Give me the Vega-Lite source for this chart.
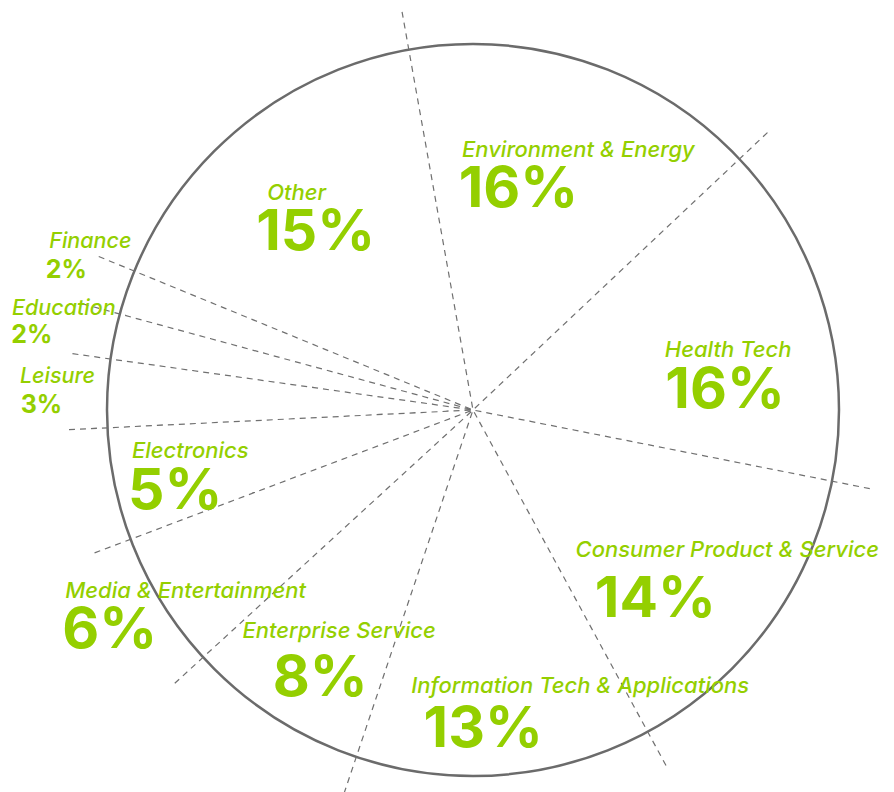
{
  "$schema": "https://vega.github.io/schema/vega-lite/v6.json",
  "width": 842,
  "height": 764,
  "autosize": "none",
  "padding": {"left": 52, "top": 28, "right": 0, "bottom": 0},
  "background": "white",
  "config": {
    "view": {"stroke": null},
    "text": {"font": "Inter", "color": "#94cf00", "align": "center", "baseline": "alphabetic"}
  },
  "datasets": {
    "shares": [
      {"idx": 1, "category": "Environment & Energy", "value": 15.78, "label": "16%"},
      {"idx": 2, "category": "Health Tech", "value": 15.14, "label": "16%"},
      {"idx": 3, "category": "Consumer Product & Service", "value": 13.97, "label": "14%"},
      {"idx": 4, "category": "Information Tech & Applications", "value": 13.08, "label": "13%"},
      {"idx": 5, "category": "Enterprise Service", "value": 8.03, "label": "8%"},
      {"idx": 6, "category": "Media & Entertainment", "value": 6.06, "label": "6%"},
      {"idx": 7, "category": "Electronics", "value": 4.97, "label": "5%"},
      {"idx": 8, "category": "Leisure", "value": 3.0, "label": "3%"},
      {"idx": 9, "category": "Education", "value": 2.0, "label": "2%"},
      {"idx": 10, "category": "Finance", "value": 1.97, "label": "2%"},
      {"idx": 11, "category": "Other", "value": 16.0, "label": "15%"}
    ]
  },
  "data": {"name": "shares"},
  "layer": [
    {
      "data": {"values": [{"ring": 1}]},
      "mark": {"type": "arc", "theta": 0, "theta2": 6.2832, "radius": 366, "filled": false, "stroke": "#6b6b6b", "strokeWidth": 2.5},
      "encoding": {}
    },
    {
      "transform": [
        {"stack": "value", "groupby": [], "as": ["v0", "v1"], "sort": [{"field": "idx", "order": "ascending"}]}
      ],
      "mark": {"type": "arc", "radius": 404.5, "filled": false, "stroke": "#707070", "strokeWidth": 1.2, "strokeDash": [6, 5]},
      "encoding": {
        "theta": {"field": "v0", "type": "quantitative", "stack": null, "scale": {"domain": [0, 100], "range": [-0.1763, 6.1069]}},
        "theta2": {"field": "v0"}
      }
    },
    {
      "encoding": {
        "theta": {"field": "value", "type": "quantitative", "stack": true, "scale": {"domain": [0, 100], "range": [-0.1763, 6.1069]}},
        "order": {"field": "idx", "type": "quantitative"}
      },
      "layer": [
        {"mark": {"type": "text", "radius": 240, "dx": 30, "dy": -25, "fontSize": 22, "fontStyle": "italic", "fontWeight": 500},
         "encoding": {"text": {"condition": {"test": "datum.idx == 1", "field": "category"}, "value": ""}}},
        {"mark": {"type": "text", "radius": 240, "dx": -30, "dy": 25, "fontSize": 57, "fontWeight": 700},
         "encoding": {"text": {"condition": {"test": "datum.idx == 1", "field": "label"}, "value": ""}}},

        {"mark": {"type": "text", "radius": 255, "dx": 10, "dy": 17, "fontSize": 22, "fontStyle": "italic", "fontWeight": 500},
         "encoding": {"text": {"condition": {"test": "datum.idx == 2", "field": "category"}, "value": ""}}},
        {"mark": {"type": "text", "radius": 255, "dx": 7, "dy": 68, "fontSize": 57, "fontWeight": 700},
         "encoding": {"text": {"condition": {"test": "datum.idx == 2", "field": "label"}, "value": ""}}},

        {"mark": {"type": "text", "radius": 281, "dx": 28, "dy": -20, "fontSize": 22, "fontStyle": "italic", "fontWeight": 500},
         "encoding": {"text": {"condition": {"test": "datum.idx == 3", "field": "category"}, "value": ""}}},
        {"mark": {"type": "text", "radius": 281, "dx": -44, "dy": 40, "fontSize": 57, "fontWeight": 700},
         "encoding": {"text": {"condition": {"test": "datum.idx == 3", "field": "label"}, "value": ""}}},

        {"mark": {"type": "text", "radius": 315, "dx": 80, "dy": -31, "fontSize": 22, "fontStyle": "italic", "fontWeight": 500},
         "encoding": {"text": {"condition": {"test": "datum.idx == 4", "field": "category"}, "value": ""}}},
        {"mark": {"type": "text", "radius": 315, "dx": -17, "dy": 23, "fontSize": 57, "fontWeight": 700},
         "encoding": {"text": {"condition": {"test": "datum.idx == 4", "field": "label"}, "value": ""}}},

        {"mark": {"type": "text", "radius": 295, "dx": 27, "dy": -19, "fontSize": 22, "fontStyle": "italic", "fontWeight": 500},
         "encoding": {"text": {"condition": {"test": "datum.idx == 5", "field": "category"}, "value": ""}}},
        {"mark": {"type": "text", "radius": 295, "dx": 8, "dy": 39, "fontSize": 57, "fontWeight": 700},
         "encoding": {"text": {"condition": {"test": "datum.idx == 5", "field": "label"}, "value": ""}}},

        {"mark": {"type": "text", "radius": 389, "dx": 44, "dy": -16, "fontSize": 22, "fontStyle": "italic", "fontWeight": 500},
         "encoding": {"text": {"condition": {"test": "datum.idx == 6", "field": "category"}, "value": ""}}},
        {"mark": {"type": "text", "radius": 389, "dx": -32, "dy": 34, "fontSize": 57, "fontWeight": 700},
         "encoding": {"text": {"condition": {"test": "datum.idx == 6", "field": "label"}, "value": ""}}},

        {"mark": {"type": "text", "radius": 299, "dx": 10, "dy": -13, "fontSize": 22, "fontStyle": "italic", "fontWeight": 500},
         "encoding": {"text": {"condition": {"test": "datum.idx == 7", "field": "category"}, "value": ""}}},
        {"mark": {"type": "text", "radius": 299, "dx": -5, "dy": 38, "fontSize": 57, "fontWeight": 700},
         "encoding": {"text": {"condition": {"test": "datum.idx == 7", "field": "label"}, "value": ""}}},

        {"mark": {"type": "text", "radius": 424, "dx": 8, "dy": -8, "fontSize": 21.5, "fontStyle": "italic", "fontWeight": 500},
         "encoding": {"text": {"condition": {"test": "datum.idx == 8", "field": "category"}, "value": ""}}},
        {"mark": {"type": "text", "radius": 424, "dx": -8, "dy": 22, "fontSize": 25, "fontWeight": 700},
         "encoding": {"text": {"condition": {"test": "datum.idx == 8", "field": "label"}, "value": ""}}},

        {"mark": {"type": "text", "radius": 433, "dx": 15, "dy": -8, "fontSize": 21.5, "fontStyle": "italic", "fontWeight": 500},
         "encoding": {"text": {"condition": {"test": "datum.idx == 9", "field": "category"}, "value": ""}}},
        {"mark": {"type": "text", "radius": 433, "dx": -17, "dy": 20, "fontSize": 25, "fontWeight": 700},
         "encoding": {"text": {"condition": {"test": "datum.idx == 9", "field": "label"}, "value": ""}}},

        {"mark": {"type": "text", "radius": 421, "dx": 16, "dy": -27, "fontSize": 21.5, "fontStyle": "italic", "fontWeight": 500},
         "encoding": {"text": {"condition": {"test": "datum.idx == 10", "field": "category"}, "value": ""}}},
        {"mark": {"type": "text", "radius": 421, "dx": -8, "dy": 3, "fontSize": 25, "fontWeight": 700},
         "encoding": {"text": {"condition": {"test": "datum.idx == 10", "field": "label"}, "value": ""}}},

        {"mark": {"type": "text", "radius": 249, "dx": -20, "dy": -16, "fontSize": 22, "fontStyle": "italic", "fontWeight": 500},
         "encoding": {"text": {"condition": {"test": "datum.idx == 11", "field": "category"}, "value": ""}}},
        {"mark": {"type": "text", "radius": 249, "dx": -1, "dy": 34, "fontSize": 57, "fontWeight": 700},
         "encoding": {"text": {"condition": {"test": "datum.idx == 11", "field": "label"}, "value": ""}}}
      ]
    }
  ]
}
